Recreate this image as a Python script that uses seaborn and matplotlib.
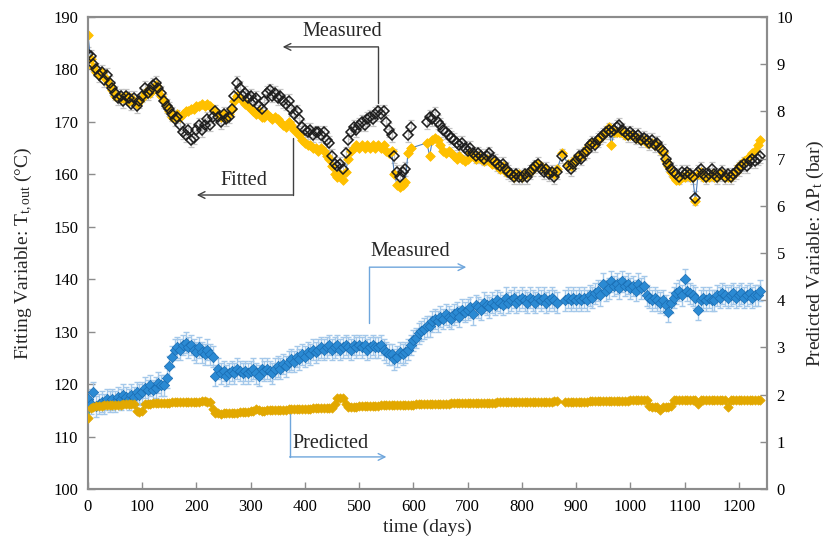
import numpy as np
import pandas as pd
import matplotlib
matplotlib.use("Agg")
import matplotlib.pyplot as plt
import seaborn as sns

# ---- data: sampling day and the four series (None = no sample) ----
days = list(range(0, 1245, 5))

t_measured = [
    183.0, 182.5, 181.0, 180.0, 179.0, 179.5, 178.0, 179.0, 177.5, 176.5, 175.5, 174.5, 175.0, 174.0, 175.0, 174.5, 173.5, 174.5, 173.0, 174.0,
    175.0, 176.5, 175.5, 176.0, 177.0, 177.5, 176.5, 175.5, 174.0, 173.0, 172.5, 171.5, 170.5, 171.0, 169.5, 168.0, 167.5, 168.5, 166.5, 167.0,
    168.5, 169.5, 168.5, 169.5, 170.5, 169.5, 171.0, 172.0, 171.0, 170.0, 171.5, 170.5, 171.0, 172.5, 175.0, 177.5, 176.5, 175.0, 175.5, 174.5,
    175.0, 174.0, 174.5, 173.0, 172.5, 174.0, 175.5, 176.0, 175.0, 175.5, 174.5, 175.0, 174.0, 173.5, 174.0, 172.5, 171.5, 172.0, 170.5, 169.0,
    168.5, 168.0, 168.5, 167.5, 168.0, 168.0, 167.5, 168.0, 166.5, 166.0, 163.5, 162.0, 161.5, 162.0, 161.0, 164.0, 166.5, 168.0, 169.0, 168.5,
    169.5, 170.0, 169.5, 170.5, 171.0, 170.5, 171.5, 172.0, 171.5, 172.0, 170.0, 168.5, 167.5, 163.5, 160.5, 159.5, 160.5, 161.0, 167.5, 169.0,
    None, None, None, None, None, 170.0, 171.0, 170.5, 171.5, 170.0, 169.5, 168.5, 168.0, 167.5, 167.0, 166.5, 166.0, 165.5, 166.0, 165.0,
    164.5, 165.0, 164.0, 163.5, 164.0, 163.5, 163.0, 163.5, 164.0, 163.0, 162.5, 162.0, 161.5, 162.0, 161.0, 160.5, 160.0, 159.5, 160.0, 159.5,
    159.5, 160.0, 159.5, 160.5, 161.0, 161.5, 162.0, 161.0, 160.5, 161.0, 160.0, 160.5, 159.5, 160.5, None, 163.5, None, 161.5, 161.0, 162.0,
    162.5, 163.5, 163.0, 164.0, 164.5, 165.5, 166.0, 165.5, 166.5, 167.0, 167.5, 168.0, 168.5, 168.0, 168.5, 169.0, 169.5, 168.5, 168.0, 167.5,
    168.0, 167.5, 167.0, 167.5, 166.5, 167.0, 166.5, 166.0, 166.5, 165.5, 166.0, 165.0, 164.5, 163.0, 162.0, 161.0, 160.5, 160.0, 159.5, 160.5,
    160.0, 160.5, 160.0, 159.5, 155.5, 160.5, 161.0, 160.0, 159.5, 160.0, 161.0, 160.0, 159.5, 160.0, 160.5, 159.5, 160.0, 159.5, 160.0, 160.5,
    161.0, 161.5, 162.0, 161.5, 162.5, 163.0, 162.5, 163.0, 163.5,
]

t_fitted = [
    186.5, 182.0, 180.5, 179.5, 179.0, 179.5, 178.5, 178.0, 177.0, 176.0, 175.0, 175.0, 174.5, 174.5, 175.0, 174.0, 174.5, 174.0, 173.5, 174.0,
    174.5, 175.5, 176.0, 175.5, 176.5, 177.0, 176.0, 175.0, 174.0, 173.0, 172.0, 171.0, 171.0, 171.5, 171.0, 171.5, 172.0, 172.0, 172.5, 172.5,
    173.0, 173.0, 173.5, 173.0, 173.5, 173.0, 172.5, 172.0, 171.5, 171.0, 171.5, 171.0, 171.5, 172.5, 174.0, 175.0, 174.5, 174.0, 173.5, 173.0,
    172.5, 172.0, 171.5, 172.0, 171.0, 171.0, 171.5, 171.0, 170.5, 171.0, 170.5, 170.0, 169.5, 169.0, 170.0, 169.5, 168.5, 168.0, 167.5, 166.5,
    166.0, 165.5, 165.5, 165.0, 165.0, 164.5, 165.0, 164.5, 163.5, 163.0, 161.5, 160.0, 159.5, 160.0, 159.0, 160.5, 163.0, 164.5, 165.0, 165.5,
    165.0, 165.5, 165.0, 165.5, 165.0, 165.5, 165.0, 165.5, 165.0, 165.5, 164.5, 164.0, 164.5, 160.0, 158.0, 157.5, 158.0, 158.5, 164.0, 165.0,
    None, None, None, None, None, 166.0, 163.5, 166.5, 167.0, 166.5, 165.5, 164.5, 164.0, 164.5, 164.0, 163.5, 163.0, 163.5, 163.0, 162.5,
    163.0, 164.0, 163.5, 163.0, 163.5, 163.0, 162.5, 163.0, 162.5, 162.0, 162.5, 161.5, 161.0, 161.5, 160.5, 160.5, 160.0, 159.5, 160.0, 160.0,
    159.5, 160.0, 160.0, 160.5, 161.0, 161.5, 162.0, 161.5, 161.0, 161.0, 160.5, 160.5, 160.0, 161.0, None, 164.0, None, 162.0, 161.5, 162.5,
    163.0, 163.5, 163.5, 164.0, 165.0, 165.5, 166.0, 166.0, 166.5, 167.0, 167.5, 168.0, 169.0, 165.5, 168.0, 168.0, 168.0, 168.0, 167.5, 167.5,
    167.5, 167.5, 167.0, 167.0, 166.5, 166.5, 166.0, 166.0, 166.0, 165.5, 165.5, 165.0, 164.0, 162.5, 161.5, 160.5, 159.5, 159.0, 159.0, 159.5,
    159.5, 160.0, 159.5, 159.5, 155.0, 160.0, 160.5, 159.5, 159.5, 159.5, 160.0, 159.5, 159.5, 160.0, 160.0, 159.5, 159.5, 159.5, 160.0, 160.5,
    161.5, 162.0, 162.5, 163.0, 163.5, 164.0, 164.5, 165.5, 166.5,
]

p_measured = [
    1.90, 1.80, 2.05, 1.75, 1.80, 1.85, 1.80, 1.90, 1.85, 1.90, 1.85, 1.95, 1.90, 2.00, 1.95, 1.90, 2.00, 1.95, 2.05, 2.00,
    2.05, 2.15, 2.10, 2.20, 2.10, 2.15, 2.25, 2.20, 2.20, 2.35, 2.60, 2.80, 2.95, 3.00, 2.95, 3.05, 3.10, 3.00, 3.05, 2.95,
    2.90, 3.00, 2.90, 2.85, 2.95, 2.85, 2.80, 2.40, 2.55, 2.45, 2.50, 2.40, 2.45, 2.50, 2.45, 2.55, 2.50, 2.45, 2.50, 2.45,
    2.50, 2.55, 2.45, 2.40, 2.55, 2.50, 2.55, 2.50, 2.45, 2.55, 2.60, 2.55, 2.65, 2.60, 2.70, 2.75, 2.70, 2.80, 2.75, 2.85,
    2.80, 2.90, 2.85, 2.95, 2.90, 2.95, 3.00, 2.95, 3.00, 3.05, 2.95, 3.00, 3.05, 2.95, 3.00, 3.05, 3.00, 2.95, 3.05, 3.00,
    3.05, 3.00, 3.05, 2.95, 3.00, 3.05, 3.00, 3.00, 3.05, 2.95, 2.90, 2.85, 2.85, 2.75, 2.80, 2.90, 2.85, 2.90, 2.95, 3.05,
    3.15, 3.20, 3.30, 3.35, 3.40, 3.45, 3.45, 3.55, 3.60, 3.55, 3.65, 3.60, 3.70, 3.65, 3.60, 3.70, 3.75, 3.65, 3.80, 3.75,
    3.80, 3.85, 3.70, 3.90, 3.85, 3.80, 3.95, 3.90, 3.85, 3.95, 3.90, 4.00, 3.95, 3.90, 4.05, 3.95, 4.00, 4.05, 3.95, 4.00,
    4.05, 4.00, 3.95, 4.05, 4.00, 3.95, 4.05, 4.00, 4.05, 3.95, 4.00, 4.05, 4.00, 3.95, None, None, 4.00, 4.05, 4.00, 4.05,
    4.00, 4.05, 4.00, 4.05, 4.00, 4.10, 4.05, 4.15, 4.20, 4.10, 4.35, 4.20, 4.25, 4.40, 4.30, 4.35, 4.25, 4.40, 4.30, 4.35,
    4.25, 4.30, 4.20, 4.35, 4.25, 4.30, 4.10, 4.05, 4.00, 4.05, 4.00, 3.95, 4.00, 3.90, 3.75, 3.95, 4.05, 4.15, 4.20, 4.10,
    4.45, 4.20, 4.15, 4.10, 4.05, 3.80, 4.00, 4.05, 4.00, 4.05, 4.00, 4.00, 4.10, 4.05, 4.15, 4.10, 4.05, 4.10, 4.15, 4.05,
    4.10, 4.15, 4.05, 4.10, 4.15, 4.05, 4.10, 4.10, 4.20,
]

p_predicted = [
    1.50, 1.72, 1.74, 1.75, 1.76, 1.76, 1.77, 1.77, 1.78, 1.78, 1.78, 1.79, 1.79, 1.80, 1.80, 1.80, 1.80, 1.81, 1.65, 1.63,
    1.66, 1.80, 1.81, 1.81, 1.82, 1.82, 1.82, 1.82, 1.83, 1.83, 1.83, 1.84, 1.84, 1.84, 1.84, 1.84, 1.84, 1.84, 1.85, 1.85,
    1.85, 1.85, 1.86, 1.87, 1.85, 1.84, 1.70, 1.62, 1.60, 1.58, 1.60, 1.60, 1.61, 1.61, 1.62, 1.62, 1.63, 1.63, 1.64, 1.64,
    1.65, 1.66, 1.70, 1.68, 1.66, 1.66, 1.67, 1.67, 1.67, 1.67, 1.68, 1.68, 1.68, 1.68, 1.69, 1.69, 1.69, 1.69, 1.70, 1.70,
    1.70, 1.70, 1.70, 1.71, 1.71, 1.71, 1.71, 1.72, 1.72, 1.72, 1.72, 1.80, 1.92, 1.93, 1.93, 1.80, 1.74, 1.74, 1.74, 1.74,
    1.75, 1.75, 1.75, 1.75, 1.76, 1.76, 1.76, 1.76, 1.77, 1.77, 1.77, 1.77, 1.78, 1.78, 1.78, 1.78, 1.79, 1.79, 1.79, 1.79,
    1.79, 1.80, 1.80, 1.80, 1.80, 1.80, 1.81, 1.81, 1.81, 1.81, 1.81, 1.81, 1.81, 1.81, 1.82, 1.82, 1.82, 1.82, 1.82, 1.82,
    1.82, 1.82, 1.82, 1.83, 1.83, 1.83, 1.83, 1.83, 1.83, 1.83, 1.83, 1.84, 1.84, 1.84, 1.84, 1.84, 1.84, 1.84, 1.84, 1.84,
    1.84, 1.84, 1.85, 1.85, 1.85, 1.85, 1.85, 1.85, 1.85, 1.85, 1.85, 1.85, 1.86, 1.86, None, None, 1.84, 1.84, 1.84, 1.85,
    1.85, 1.85, 1.85, 1.85, 1.85, 1.86, 1.86, 1.86, 1.86, 1.86, 1.86, 1.86, 1.87, 1.87, 1.87, 1.87, 1.87, 1.87, 1.87, 1.87,
    1.88, 1.88, 1.88, 1.89, 1.89, 1.89, 1.88, 1.75, 1.74, 1.74, 1.74, 1.68, 1.74, 1.74, 1.74, 1.75, 1.88, 1.88, 1.88, 1.88,
    1.88, 1.88, 1.88, 1.88, 1.88, 1.81, 1.88, 1.88, 1.88, 1.88, 1.88, 1.88, 1.88, 1.88, 1.88, 1.88, 1.74, 1.88, 1.88, 1.88,
    1.88, 1.88, 1.88, 1.88, 1.88, 1.88, 1.88, 1.88, 1.88,
]

t_error = 1.3    # degC, measurement uncertainty of the outlet temperature
p_error = 0.22   # bar, measurement uncertainty of the pressure drop

x_ticks = list(range(0, 1300, 100))
left_ticks = list(range(100, 200, 10))
right_ticks = list(range(0, 11, 1))

df = pd.DataFrame({
    "day": days,
    "t_meas": t_measured,
    "t_fit": t_fitted,
    "p_meas": p_measured,
    "p_pred": p_predicted,
}).astype(float)

# ---- style ----
sns.set_theme(style="ticks")
plt.rcParams["font.family"] = ["Liberation Serif", "DejaVu Serif"]
plt.rcParams["mathtext.fontset"] = "custom"
plt.rcParams["mathtext.rm"] = "Liberation Serif"
plt.rcParams["mathtext.it"] = "Liberation Serif:italic"

SPINE = "#8C8C8C"
GOLD_FIT = "#FFC000"
GOLD_PRED = "#E2A800"
BLUE = "#2B8AD3"
BLUE_EDGE = "#1A6DB3"
BLUE_BAR = "#A4C8EA"
GREY_BAR = "#C4C4C4"
BLUE_NOTE = "#6FA6DC"
DARK_NOTE = "#404040"

fig = plt.figure(figsize=(8.26, 5.54), dpi=100)
ax = fig.add_axes([0.1065, 0.1173, 0.822, 0.852])
ax2 = ax.twinx()

# ---- temperature: measured vs fitted (left axis) ----
tm = df.dropna(subset=["t_meas"])
tf = df.dropna(subset=["t_fit"])
ax.errorbar(tm["day"], tm["t_meas"], yerr=t_error, fmt="none", ecolor=GREY_BAR,
            elinewidth=0.9, capsize=2.5, capthick=0.9, zorder=1)
sns.lineplot(data=tf, x="day", y="t_fit", ax=ax, color="#4F81BD", lw=0.8,
             zorder=2, estimator=None)
sns.scatterplot(data=tf, x="day", y="t_fit", ax=ax, marker="D", s=24,
                color=GOLD_FIT, edgecolor=GOLD_FIT, linewidth=0.6, zorder=3)
ax.plot(tm["day"], tm["t_meas"], ls="none", marker="D", ms=5.0, mfc="none",
        mec="#1E1E1E", mew=1.1, zorder=4)

# ---- pressure drop: measured vs predicted (right axis) ----
pm = df.dropna(subset=["p_meas"])
pp = df.dropna(subset=["p_pred"])
ax2.errorbar(pm["day"], pm["p_meas"], yerr=p_error, fmt="none", ecolor=BLUE_BAR,
             elinewidth=1.0, capsize=2.5, capthick=1.0, zorder=1)
sns.scatterplot(data=pm, x="day", y="p_meas", ax=ax2, marker="D", s=28,
                color=BLUE, edgecolor=BLUE_EDGE, linewidth=0.5, zorder=3)
sns.lineplot(data=pp, x="day", y="p_pred", ax=ax2, color="#3CB371", lw=0.8,
             zorder=2, estimator=None)
sns.scatterplot(data=pp, x="day", y="p_pred", ax=ax2, marker="D", s=22,
                color=GOLD_PRED, edgecolor=GOLD_PRED, linewidth=0.6, zorder=4)

# ---- axes ----
ax.set_xlim(0, 1252)
ax.set_ylim(100, 190)
ax2.set_ylim(0, 10)
ax.set_xticks(x_ticks)
ax.set_yticks(left_ticks)
ax2.set_yticks(right_ticks)

for a in (ax, ax2):
    for s in a.spines.values():
        s.set_color(SPINE)
        s.set_linewidth(1.5)
    a.tick_params(direction="in", length=5, width=1, color=SPINE,
                  labelsize=12, labelcolor="black", pad=7)

ax.set_xlabel("time (days)", fontsize=14, labelpad=3)
ax.set_ylabel("Fitting Variable: T$_{\\mathregular{t,out}}$ (\u00b0C)", fontsize=14, labelpad=13)
ax2.set_ylabel("Predicted Variable: \u0394P$_{\\mathregular{t}}$ (bar)", fontsize=14, labelpad=8)

# ---- callouts ----
arrow = dict(arrowstyle="->", lw=1.0, shrinkA=0, shrinkB=0)

ax.text(469, 187.3, "Measured", fontsize=14.5, ha="center", va="center")
ax.plot([535.6, 535.6], [173.6, 184.3], color=DARK_NOTE, lw=1.0)
ax.annotate("", xy=(359, 184.3), xytext=(535.6, 184.3),
            arrowprops=dict(arrow, color=DARK_NOTE))

ax.text(287, 158.9, "Fitted", fontsize=14.5, ha="center", va="center")
ax.plot([377.3, 377.3], [156.06, 166.9], color=DARK_NOTE, lw=1.0)
ax.annotate("", xy=(200.6, 156.06), xytext=(377.3, 156.06),
            arrowprops=dict(arrow, color=DARK_NOTE))

ax2.text(594.5, 5.04, "Measured", fontsize=14.5, ha="center", va="center")
ax2.plot([519, 519], [3.52, 4.70], color=BLUE_NOTE, lw=1.0)
ax2.annotate("", xy=(697.6, 4.70), xytext=(519, 4.70),
             arrowprops=dict(arrow, color=BLUE_NOTE))

ax2.text(447, 0.97, "Predicted", fontsize=14.5, ha="center", va="center")
ax2.plot([371.8, 371.8], [0.68, 1.61], color=BLUE_NOTE, lw=1.0)
ax2.annotate("", xy=(550.3, 0.68), xytext=(371.8, 0.68),
             arrowprops=dict(arrow, color=BLUE_NOTE))

fig.savefig("out.png", dpi=100)
